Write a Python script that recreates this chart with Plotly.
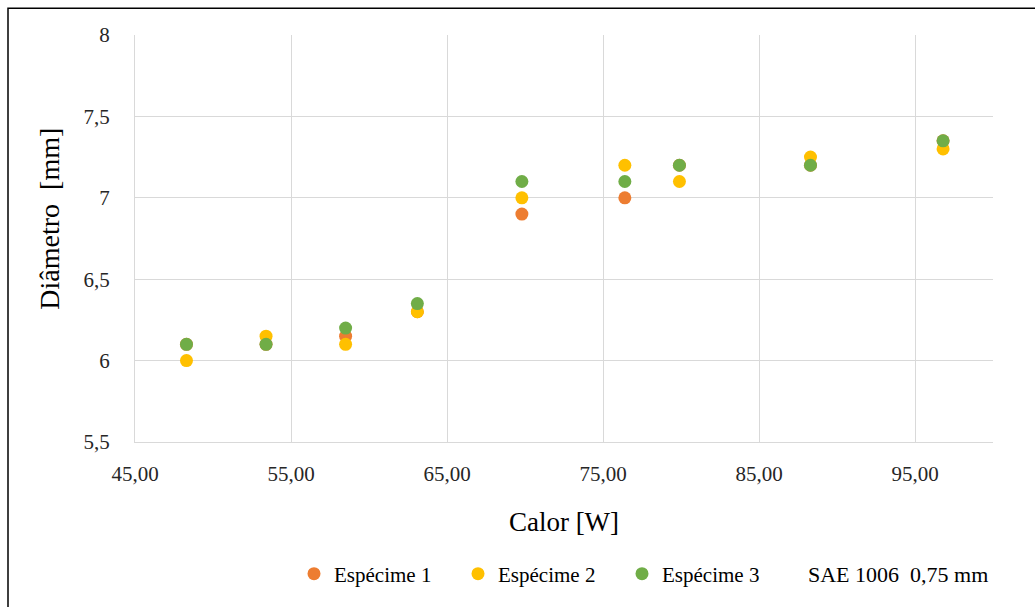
import plotly.graph_objects as go

# Heat input (W) shared by the three specimens
calor = [48.3, 53.4, 58.5, 63.1, 69.8, 76.4, 79.9, 88.3, 96.8]

# Measured diameter (mm) per specimen
especime_1 = [6.10, 6.10, 6.15, 6.30, 6.90, 7.00, 7.20, 7.20, 7.35]
especime_2 = [6.00, 6.15, 6.10, 6.30, 7.00, 7.20, 7.10, 7.25, 7.30]
especime_3 = [6.10, 6.10, 6.20, 6.35, 7.10, 7.10, 7.20, 7.20, 7.35]

series_names = ["Espécime 1", "Espécime 2", "Espécime 3"]
series_colors = ["#ED7D31", "#FFC000", "#70AD47"]
x_ticks = [45, 55, 65, 75, 85, 95]
y_ticks = [5.5, 6, 6.5, 7, 7.5, 8]

SERIF = "Liberation Serif, Times New Roman, serif"
TICK_COLOR = "#262626"

fig = go.Figure()
for name, ys, color in zip(series_names, [especime_1, especime_2, especime_3], series_colors):
    fig.add_trace(go.Scatter(
        x=calor, y=ys, name=name, mode="markers",
        marker=dict(color=color, size=13, line=dict(width=0)),
    ))

W, H = 1035, 607
L, R, T, B = 135, 42, 35, 162
pw, ph = W - L - R, H - T - B
legend_y = (H - B - 578) / ph

fig.update_layout(
    width=W, height=H,
    margin=dict(l=L, r=R, t=T, b=B),
    paper_bgcolor="white", plot_bgcolor="white",
    separators=",.",
    font=dict(family=SERIF, color=TICK_COLOR),
    showlegend=True,
    legend=dict(
        orientation="h",
        x=(294 - L) / pw, xanchor="left",
        y=legend_y, yanchor="middle",
        font=dict(family=SERIF, size=21, color="#000000"),
        entrywidth=119, entrywidthmode="pixels",
        itemwidth=30, tracegroupgap=0,
        bgcolor="rgba(0,0,0,0)",
    ),
    xaxis=dict(
        range=[45, 100], tickvals=x_ticks, tickformat=".2f",
        showgrid=True, gridcolor="#D9D9D9", gridwidth=1,
        zeroline=False, showline=True, linecolor="#D9D9D9", linewidth=1,
        ticks="", ticklabelstandoff=13,
        tickfont=dict(family=SERIF, size=21, color=TICK_COLOR),
        title=dict(text="Calor [W]", standoff=26,
                   font=dict(family=SERIF, size=27, color="#000000")),
    ),
    yaxis=dict(
        range=[5.5, 8], tickvals=y_ticks,
        showgrid=True, gridcolor="#D9D9D9", gridwidth=1,
        zeroline=False, showline=True, linecolor="#D9D9D9", linewidth=1,
        ticks="", ticklabelstandoff=20,
        tickfont=dict(family=SERIF, size=21, color=TICK_COLOR),
    ),
)

# Vertical axis title
fig.add_annotation(
    text="Diâmetro  [mm]", xref="paper", yref="paper",
    x=(50 - L) / pw, y=(H - B - 220) / ph, xanchor="center", yanchor="middle",
    textangle=-90, showarrow=False,
    font=dict(family=SERIF, size=28, color="#000000"),
)

# Material / wire size note beside the legend
fig.add_annotation(
    text="SAE 1006  0,75 mm", xref="paper", yref="paper",
    x=(806 - L) / pw, y=legend_y, xanchor="left", yanchor="middle",
    showarrow=False, font=dict(family=SERIF, size=22, color="#000000"),
)

# Outer chart frame
fig.add_shape(
    type="rect", xref="paper", yref="paper",
    x0=(8 - L) / pw, x1=(1045 - L) / pw,
    y0=(H - B - 620) / ph, y1=(H - B - 8) / ph,
    line=dict(color="#000000", width=1.5), fillcolor="rgba(0,0,0,0)",
    layer="above",
)

fig.write_html("out.html")
